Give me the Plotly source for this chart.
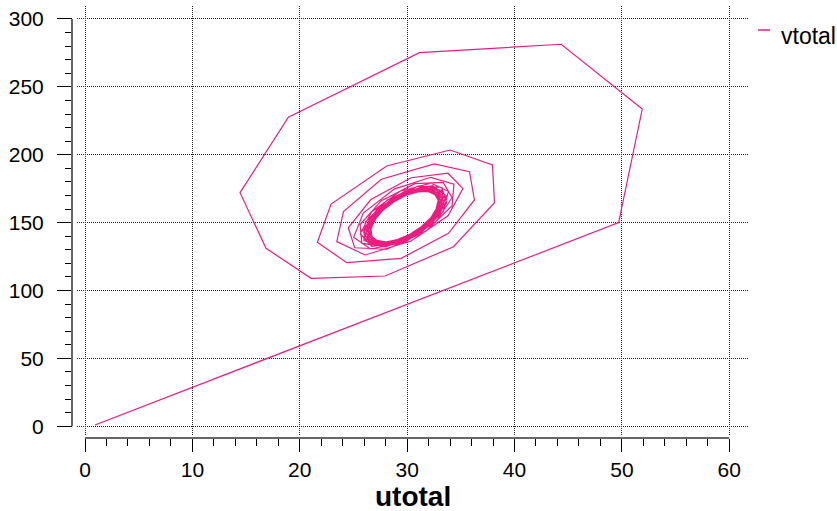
import plotly.graph_objects as go

# Phase-plane trajectory (utotal, vtotal)
utotal = [
    0.93, 49.7, 51.9, 44.35, 31.15, 18.94, 14.44, 16.86, 21.06, 27.95,
    34.32, 38.14, 37.95, 34.0, 28.1, 22.92, 21.64, 24.38, 29.44,
    33.85, 36.27, 35.81, 32.52, 27.6, 24.07, 23.45, 26.09,
    30.37, 33.81, 35.2, 33.81, 30.37, 26.62, 24.52, 25.12, 28.13,
    31.75, 34.19, 34.36, 32.2, 28.8, 25.92, 25.02, 26.59, 29.8,
    32.74, 34.18, 33.36, 30.72, 27.6, 25.62, 25.78, 28.01, 31.16,
    33.37, 33.84, 32.22, 29.34, 26.70, 25.63, 26.70, 29.34, 32.22,
    33.68, 33.23, 31.01, 28.14, 26.11, 25.97, 27.77, 30.6, 33.0,
    33.64, 32.37, 29.76, 27.15, 25.88, 26.6, 28.95, 31.71, 33.47,
    33.22, 31.30, 28.58, 26.46, 26.03, 27.52, 30.15, 32.57, 33.55,
    32.51, 30.14, 27.56, 26.11, 26.53, 28.6, 31.26, 33.15, 33.29,
    31.58, 28.99, 26.80, 26.12, 27.31, 29.75, 32.19, 33.38, 32.70,
    30.49, 27.96, 26.35, 26.48, 28.29, 30.86, 32.85, 33.25, 31.85,
    29.38, 27.13, 26.23, 27.13, 29.38, 31.82, 33.19, 32.80, 30.84,
    28.34, 26.59, 26.46, 28.02, 30.47, 32.55, 33.19, 32.06, 29.75,
    27.47, 26.36, 26.99, 29.04, 31.46, 32.99, 32.87, 31.14, 28.70,
    26.83, 26.45, 27.77, 30.10, 32.25, 33.12, 32.25, 30.10, 27.77,
    26.48, 26.86, 28.72, 31.11, 32.80, 32.93, 31.42, 29.06, 27.05,
    26.46, 27.54, 29.75, 31.96, 33.04, 32.43, 30.44, 28.10, 26.60,
    26.74, 28.41, 30.77, 32.60, 32.97, 31.68, 29.40, 27.31, 26.46,
]
vtotal = [
    1.0, 150.0, 233.7, 281.4, 275.2, 227.6, 172.1, 131.1, 109.0, 110.7,
    132.3, 164.7, 192.5, 203.5, 191.7, 163.7, 135.5, 120.5, 123.7,
    142.1, 166.7, 187.5, 193.2, 182.0, 158.1, 136.0, 126.2,
    136.5, 155.0, 175.1, 186.4, 183.1, 167.0, 146.2, 131.5, 130.4,
    143.75, 162.5, 178.4, 183.4, 174.7, 157.0, 139.3, 130.6, 135.6,
    151.1, 168.5, 179.6, 178.7, 166.2, 148.6, 134.9, 132.1, 141.7,
    158.1, 173.1, 179.1, 173.1, 158.1, 141.8, 132.6, 135.25, 148.3,
    164.5, 176.0, 176.9, 166.6, 150.5, 136.75, 132.5, 139.95, 155.2,
    169.9, 177.2, 173.0, 159.6, 143.85, 133.8, 134.6, 145.9, 161.9,
    173.8, 176.2, 167.7, 152.5, 138.5, 132.9, 138.5, 152.5, 167.7,
    175.7, 173.3, 161.3, 145.8, 134.9, 134.1, 143.8, 159.1, 172.1,
    175.7, 168.75, 154.5, 140.25, 133.3, 137.3, 150.1, 165.15, 174.8,
    173.7, 163.05, 148.0, 136.3, 133.96, 142.15, 156.7, 170.1, 175.5,
    169.9, 156.7, 142.3, 134.3, 136.6, 148.1, 162.9, 173.4, 174.2,
    164.7, 150.3, 138.0, 134.2, 140.85, 154.5, 168.15, 174.8, 171.0,
    158.7, 144.4, 135.3, 136.0, 146.3, 160.7, 172.0, 174.3, 166.4,
    152.4, 139.6, 134.5, 139.6, 152.4, 166.3, 174.1, 171.8, 160.7,
    146.4, 136.4, 135.7, 144.6, 158.6, 170.5, 174.2, 167.75, 154.5,
    141.3, 134.9, 138.6, 150.4, 164.35, 173.2, 172.5, 162.5, 148.4,
    137.5, 135.3, 143.0, 156.6, 169.1, 174.1, 169.1, 156.6, 143.0,
]

series_name = "vtotal"
x_title = "utotal"
x_ticks = [0, 10, 20, 30, 40, 50, 60]
y_ticks = [0, 50, 100, 150, 200, 250, 300]

LINE_COLOR = "#eb1c80"
FONT = "Liberation Sans, Arial, sans-serif"

fig = go.Figure()
fig.add_trace(go.Scatter(
    x=utotal, y=vtotal, mode="lines", name=series_name,
    line=dict(color=LINE_COLOR, width=1.2), showlegend=False,
))

W, H = 837, 511
ml, mr, mt, mb = 72, 88, 6, 73
pw, ph = W - ml - mr, H - mt - mb

grid = dict(showgrid=True, gridcolor="#222222", gridwidth=1, griddash="1px,1px",
            zeroline=False, showline=False, ticks="outside", tickcolor="black",
            tickwidth=1, tickfont=dict(family=FONT, size=21, color="black"))

fig.update_layout(
    width=W, height=H,
    margin=dict(l=ml, r=mr, t=mt, b=mb, pad=0),
    paper_bgcolor="white", plot_bgcolor="white",
    xaxis=dict(domain=[5 / pw, 1], anchor="free", position=0,
               range=[-0.745, 61.84], tickvals=x_ticks, ticklen=13,
               minor=dict(dtick=2, ticklen=7, tickcolor="black", ticks="outside",
                          showgrid=False),
               **grid),
    yaxis=dict(domain=[3 / ph, 1], anchor="free", position=0,
               range=[-6.41, 309.57], tickvals=y_ticks, ticklen=15,
               ticklabelstandoff=9,
               minor=dict(dtick=10, ticklen=7, tickcolor="black", ticks="outside",
                          showgrid=False),
               **grid),
    showlegend=False,
)

# offset axis lines spanning only the data extent
fig.add_shape(type="line", xref="x", yref="paper", x0=x_ticks[0], x1=x_ticks[-1],
              y0=0, y1=0, line=dict(color="#666666", width=2))
fig.add_shape(type="line", xref="paper", yref="y", x0=0, x1=0,
              y0=y_ticks[0], y1=y_ticks[-1], line=dict(color="#666666", width=2))

# axis title
fig.add_annotation(text="<b>" + x_title + "</b>", xref="paper", yref="paper",
                   x=(413 - ml) / pw, y=(438 - 496.6) / ph, showarrow=False,
                   xanchor="center", yanchor="middle",
                   font=dict(family=FONT, size=28, color="black"))

# legend entry
fig.add_shape(type="line", xref="paper", yref="paper",
              x0=(758 - ml) / pw, x1=(770 - ml) / pw,
              y0=(438 - 30) / ph, y1=(438 - 30) / ph,
              line=dict(color=LINE_COLOR, width=1.5))
fig.add_annotation(text=series_name, xref="paper", yref="paper",
                   x=(779 - ml) / pw, y=(438 - 36) / ph, showarrow=False,
                   xanchor="left", yanchor="middle",
                   font=dict(family=FONT, size=23, color="black"))

fig.write_html("out.html")
